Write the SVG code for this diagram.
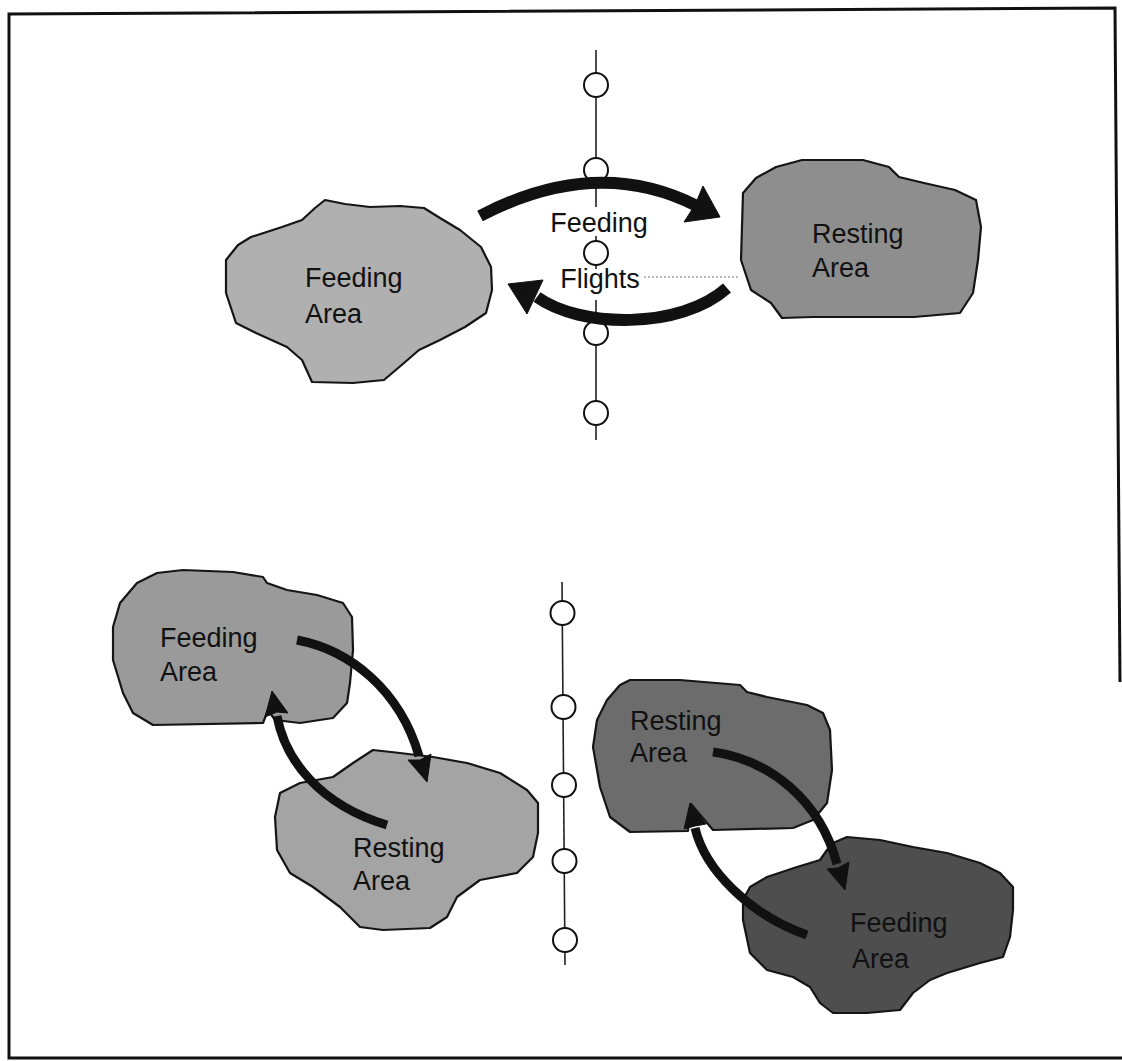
<svg xmlns="http://www.w3.org/2000/svg" width="1122" height="1061" viewBox="0 0 1122 1061">
<style>
.blob{stroke:#151515;stroke-width:2.2;stroke-linejoin:round}
.f1{fill:#b0b0b0}.r1{fill:#8e8e8e}.f2{fill:#9a9a9a}.r2{fill:#a4a4a4}.r3{fill:#6c6c6c}.f3{fill:#4e4e4e}
.lbl{font-family:"Liberation Sans",Arial,sans-serif;font-size:27px;fill:#111}
.vline{stroke:#222;stroke-width:1.6;fill:none}
.stop{fill:#fff;stroke:#111;stroke-width:2}
.arc{fill:none;stroke:#111;stroke-linecap:butt}
.big{stroke-width:12}.small{stroke-width:9}
.head{fill:#111;stroke:#111;stroke-width:1;stroke-linejoin:round}
.dots{stroke:#777;stroke-width:1;stroke-dasharray:2 2;fill:none}
.frame{fill:none;stroke:#111;stroke-width:3}
</style>
<rect width="1122" height="1061" fill="#fff"/>
<path class="frame" d="M1120,682 L1115,8 L9,14 L9,1058 L1122,1058"/>

<g id="flyway-top">
<path class="vline" d="M596,50 V207 M596,236 V241 M596,265 V269 M596,300 V440"/>
<circle class="stop" cx="596" cy="85" r="12"/>
<circle class="stop" cx="596" cy="170" r="12"/>
<circle class="stop" cx="596" cy="253" r="12"/>
<circle class="stop" cx="596" cy="333" r="12"/>
<circle class="stop" cx="596" cy="413" r="12"/>
</g>

<g id="flyway-bottom">
<path class="vline" d="M562,582 L565,965"/>
<circle class="stop" cx="562.5" cy="613" r="12"/>
<circle class="stop" cx="563.5" cy="707" r="12"/>
<circle class="stop" cx="564" cy="785" r="12"/>
<circle class="stop" cx="564.5" cy="861" r="12"/>
<circle class="stop" cx="565" cy="940" r="12"/>
</g>

<g id="top-feeding-area">
<path class="blob f1" d="M325,200 L345,204 L370,207 L400,206 L424,208 L440,218 L460,230 L481,247 L491,267 L492,290 L486,313 L465,327 L440,340 L419,350 L404,363 L384,380 L353,383 L312,382 L302,360 L287,347 L256,333 L236,323 L226,293 L226,260 L238,245 L251,237 L282,227 L302,220 L315,208 Z"/>
<text class="lbl" x="305" y="287">Feeding</text>
<text class="lbl" x="305" y="323">Area</text>
</g>

<g id="top-resting-area">
<path class="blob r1" d="M743,193 L756,178 L776,167 L802,160 L863,160 L889,167 L899,177 L924,183 L955,190 L976,200 L981,227 L978,260 L973,293 L960,313 L914,317 L812,317 L782,318 L771,303 L751,290 L741,260 Z"/>
<text class="lbl" x="812" y="243">Resting</text>
<text class="lbl" x="812" y="277">Area</text>
</g>

<g id="feeding-flights-label">
<text class="lbl" x="599" y="232" text-anchor="middle">Feeding</text>
<text class="lbl" x="600" y="288" text-anchor="middle">Flights</text>
</g>

<g id="bl-feeding-area">
<path class="blob f2" d="M113,627 L120,603 L137,583 L157,573 L183,570 L233,572 L263,577 L267,583 L287,590 L317,595 L343,603 L352,617 L353,650 L350,683 L347,703 L333,718 L300,723 L275,720 L268,710 L263,723 L153,725 L133,713 L123,693 L113,660 Z"/>
<text class="lbl" x="160" y="647">Feeding</text>
<text class="lbl" x="160" y="681">Area</text>
</g>

<g id="bl-resting-area">
<path class="blob r2" d="M373,750 L400,753 L433,757 L467,763 L500,773 L527,790 L538,803 L538,833 L533,857 L517,873 L480,880 L457,897 L447,917 L430,928 L383,930 L360,927 L340,907 L313,887 L290,873 L277,850 L275,817 L280,793 L300,783 L333,777 L353,763 Z"/>
<text class="lbl" x="353" y="857">Resting</text>
<text class="lbl" x="353" y="890">Area</text>
</g>

<g id="br-resting-area">
<path class="blob r3" d="M630,680 L680,680 L740,685 L747,692 L767,697 L807,705 L823,713 L830,730 L832,770 L827,803 L813,820 L793,828 L713,830 L691,804 L688,831 L630,832 L610,817 L600,787 L593,747 L597,720 L607,700 L620,685 Z"/>
<text class="lbl" x="630" y="730">Resting</text>
<text class="lbl" x="630" y="762">Area</text>
</g>

<g id="br-feeding-area">
<path class="blob f3" d="M833,843 L847,837 L880,840 L913,847 L947,853 L980,863 L1000,873 L1013,887 L1013,910 L1010,937 L1003,957 L980,963 L947,973 L930,980 L913,993 L900,1010 L867,1013 L833,1013 L820,1003 L810,987 L793,977 L767,970 L750,953 L743,920 L743,900 L750,887 L767,877 L797,867 L820,860 L827,850 Z"/>
<text class="lbl" x="850" y="932">Feeding</text>
<text class="lbl" x="852" y="968">Area</text>
</g>

<g id="connectors">
<path class="arc big" d="M480,216 Q597,155 697,206"/>
<polygon class="head" points="720,217 703,186 695,205 684,222"/>
<path class="arc big" d="M727,288 C680,330 580,328 537,297"/>
<polygon class="head" points="508,284 543,280 535,297 527,314"/>
<path class="arc small" d="M297,640 C350,650 400,690 419,756"/>
<polygon class="head" points="427,782 431,754 420,760 408,760"/>
<path class="arc small" d="M387,825 C320,805 285,760 277,716"/>
<polygon class="head" points="272,691 288,713 277,712 265,717"/>
<path class="arc small" d="M713,752 C770,760 820,800 837,864"/>
<polygon class="head" points="845,890 849,862 838,868 827,869"/>
<path class="arc small" d="M807,935 C750,915 705,870 695,828"/>
<polygon class="head" points="690,803 706,824 695,826 684,829"/>
<path class="dots" d="M644,277 H740"/>
</g>
</svg>
